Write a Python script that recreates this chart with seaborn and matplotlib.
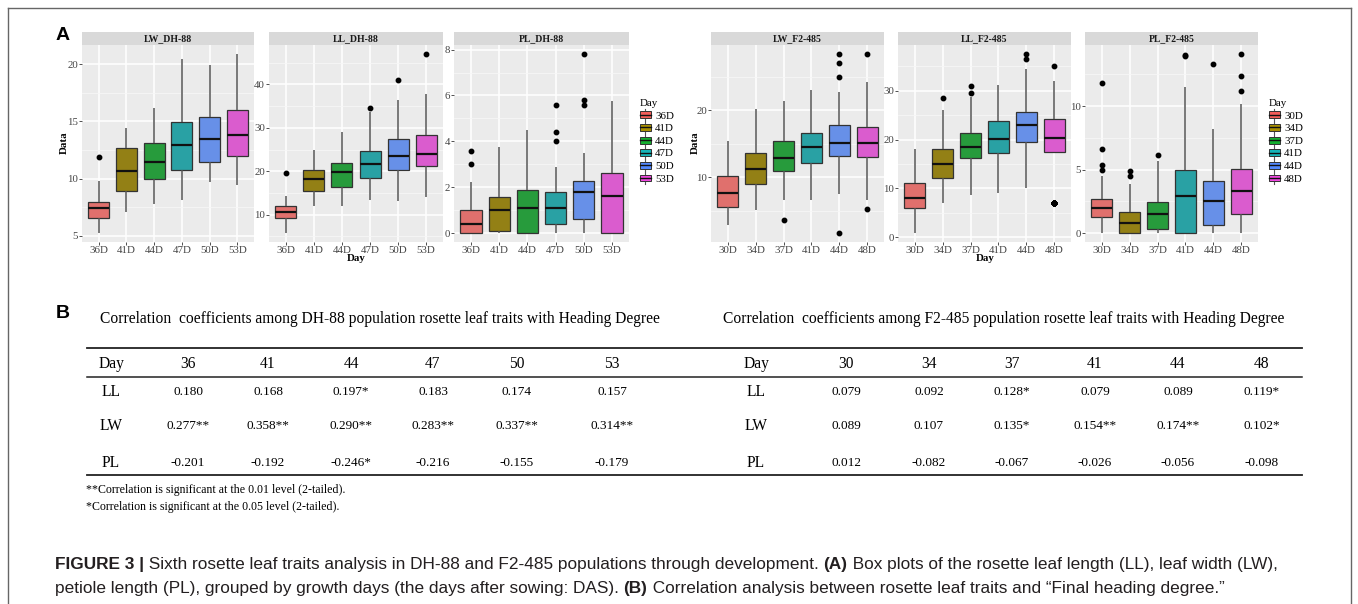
import numpy as np
import pandas as pd
import matplotlib
matplotlib.use("Agg")
import matplotlib.pyplot as plt
import seaborn as sns
from matplotlib.ticker import MultipleLocator
from matplotlib.patches import Patch, Rectangle
from matplotlib.lines import Line2D

# ---- box plot summaries: [lower whisker, Q1, median, Q3, upper whisker]
dh_days = ["36D", "41D", "44D", "47D", "50D", "53D"]
f2_days = ["30D", "34D", "37D", "41D", "44D", "48D"]

lw_dh_box = [[5.23, 6.52, 7.4, 7.99, 9.75], [7.05, 8.9, 10.68, 12.65, 14.43],
             [7.8, 9.98, 11.47, 13.15, 16.16], [8.13, 10.77, 12.97, 14.96, 20.47],
             [9.69, 11.47, 13.47, 15.34, 19.94], [9.4, 12.0, 13.79, 15.96, 20.9]]
lw_dh_out = [[11.9], [], [], [], [], []]

ll_dh_box = [[5.78, 9.16, 10.69, 12.0, 14.37], [11.9, 15.37, 18.13, 20.2, 24.97],
             [11.9, 16.37, 19.9, 21.9, 28.96], [13.5, 18.44, 21.74, 24.58, 33.56],
             [13.07, 20.36, 23.5, 27.42, 36.48], [14.14, 21.2, 24.04, 28.27, 37.86]]
ll_dh_out = [[19.5], [], [], [34.48], [41.0], [47.0]]

pl_dh_box = [[0, 0, 0.38, 1.0, 2.21], [0, 0.09, 1.0, 1.57, 3.75],
             [0, 0, 1.09, 1.88, 4.49], [0, 0.38, 1.09, 1.79, 2.88],
             [0, 0.6, 1.79, 2.27, 3.48], [0, 0, 1.6, 2.6, 5.77]]
pl_dh_out = [[3.0, 3.59], [], [], [4.0, 4.39, 5.6], [5.6, 5.79, 7.81], []]

lw_f2_box = [[2.94, 5.57, 7.66, 10.15, 15.42], [5.17, 9.0, 11.24, 13.58, 20.25],
             [6.67, 11.0, 12.94, 15.37, 21.44], [6.67, 12.14, 14.48, 16.57, 23.08],
             [7.46, 13.13, 15.17, 17.76, 22.79], [6.67, 13.03, 15.17, 17.56, 24.28]]
lw_f2_out = [[], [], [3.68], [], [1.69, 24.93, 27.0, 28.4], [5.22, 28.36]]

ll_f2_box = [[0.89, 5.93, 8.11, 11.18, 18.13], [7.02, 12.07, 14.93, 18.13, 25.97],
             [8.66, 16.22, 18.54, 21.4, 28.63], [9.13, 17.18, 20.11, 23.79, 31.22],
             [10.16, 19.43, 22.9, 25.7, 34.49], [7.09, 17.38, 20.38, 24.2, 31.97]]
ll_f2_out = [[], [28.43], [29.45, 31.0], [], [36.47, 37.49], [35.04]]

pl_f2_box = [[0, 1.29, 1.97, 2.68, 4.47], [0, 0, 0.79, 1.68, 3.89],
             [0, 0.29, 1.47, 2.47, 5.7], [0, 0, 2.92, 5.0, 11.47],
             [0, 0.66, 2.5, 4.1, 8.18], [0, 1.47, 3.29, 5.08, 10.18]]
pl_f2_out = [[4.97, 5.37, 6.58, 11.8], [4.5, 4.89], [6.18], [13.95, 14.0], [13.3], [11.2, 12.4, 14.1]]

# ---- correlation tables
dh_cols = ["36", "41", "44", "47", "50", "53"]
dh_LL = ["0.180", "0.168", "0.197*", "0.183", "0.174", "0.157"]
dh_LW = ["0.277**", "0.358**", "0.290**", "0.283**", "0.337**", "0.314**"]
dh_PL = ["-0.201", "-0.192", "-0.246*", "-0.216", "-0.155", "-0.179"]
f2_cols = ["30", "34", "37", "41", "44", "48"]
f2_LL = ["0.079", "0.092", "0.128*", "0.079", "0.089", "0.119*"]
f2_LW = ["0.089", "0.107", "0.135*", "0.154**", "0.174**", "0.102*"]
f2_PL = ["0.012", "-0.082", "-0.067", "-0.026", "-0.056", "-0.098"]

palette = ["#F35E5A", "#A88F00", "#14AE2F", "#14B4B8", "#5288FD", "#EF47DF"]

W, H = 1358, 604
SERIF = ["Liberation Serif", "DejaVu Serif"]
SANS = ["Liberation Sans", "DejaVu Sans"]
plt.rcParams["font.family"] = SERIF

fig = plt.figure(figsize=(W / 100, H / 100), dpi=100)


def fx(x):
    return x / W


def fy(y):
    return 1 - y / H


def add_ax(x0, y0, x1, y1):
    return fig.add_axes([fx(x0), fy(y1), (x1 - x0) / W, (y1 - y0) / H])


def expand(days, box, outs):
    # repeat each summary value so the quartiles come out exactly as read
    rows = []
    for d, s, o in zip(days, box, outs):
        for v in s:
            rows += [(d, v)] * 20
        rows += [(d, v) for v in o]
    return pd.DataFrame(rows, columns=["Day", "Data"])


def panel(x0, x1, title, days, box, outs, step):
    ax = add_ax(x0, 45, x1, 242)
    df = expand(days, box, outs)
    sns.boxplot(data=df, x="Day", y="Data", hue="Day", palette=palette, width=0.75,
                linecolor="#333333", linewidth=0.9, showcaps=False, whis=1.5,
                fliersize=3.2, legend=False, ax=ax,
                flierprops=dict(marker="o", markerfacecolor="black", markeredgecolor="black"),
                medianprops=dict(color="#111111", linewidth=1.6),
                whiskerprops=dict(color="#555555", linewidth=1.1))
    lo, hi = df["Data"].min(), df["Data"].max()
    pad = 0.05 * (hi - lo)
    ax.set_ylim(lo - pad, hi + pad)
    ax.set_xlim(-0.6, 5.6)
    ax.set_facecolor("#EBEBEB")
    ax.yaxis.set_major_locator(MultipleLocator(step))
    ax.yaxis.set_minor_locator(MultipleLocator(step / 2))
    ax.set_axisbelow(True)
    ax.grid(True, which="major", color="white", linewidth=1.1)
    ax.grid(True, which="minor", axis="y", color="#F7F7F7", linewidth=0.55)
    for s in ax.spines.values():
        s.set_visible(False)
    ax.tick_params(which="major", length=2, width=0.6, color="#333333",
                   labelsize=7.8, labelcolor="#444444", pad=0.8)
    ax.tick_params(which="minor", length=0)
    ax.set_xlabel("")
    ax.set_ylabel("")
    st = add_ax(x0, 32, x1, 45)
    st.set_facecolor("#D9D9D9")
    st.set_xticks([])
    st.set_yticks([])
    for s in st.spines.values():
        s.set_visible(False)
    st.text(0.5, 0.5, title, ha="center", va="center", fontsize=7,
            fontweight="bold", color="#1A1A1A", transform=st.transAxes)
    return ax


panel(82, 254, "LW_DH-88", dh_days, lw_dh_box, lw_dh_out, 5)
panel(269, 443, "LL_DH-88", dh_days, ll_dh_box, ll_dh_out, 10)
panel(454, 629, "PL_DH-88", dh_days, pl_dh_box, pl_dh_out, 2)
panel(711, 884, "LW_F2-485", f2_days, lw_f2_box, lw_f2_out, 10)
panel(898, 1071, "LL_F2-485", f2_days, ll_f2_box, ll_f2_out, 10)
panel(1085, 1258, "PL_F2-485", f2_days, pl_f2_box, pl_f2_out, 5)

# axis titles
for x in (64, 695):
    fig.text(fx(x), fy(143), "Data", rotation=90, ha="center", va="center",
             fontsize=7.8, fontweight="bold")
for x in (356, 985):
    fig.text(fx(x), fy(258), "Day", ha="center", va="center", fontsize=7.8, fontweight="bold")


class BoxKey:
    # small boxplot glyph like the ggplot legend key
    def legend_artist(self, legend, orig_handle, fontsize, handlebox):
        x0, y0 = -handlebox.xdescent, -handlebox.ydescent
        w, h = handlebox.width, handlebox.height
        tr = handlebox.get_transform()
        handlebox.add_artist(Line2D([x0 + w / 2] * 2, [y0 - 1, y0 + h + 1], color="#555555",
                                    linewidth=0.8, transform=tr))
        handlebox.add_artist(Rectangle((x0, y0 + 0.12 * h), w, 0.76 * h,
                                       facecolor=orig_handle.get_facecolor(), edgecolor="#333333",
                                       linewidth=0.7, transform=tr))
        handlebox.add_artist(Line2D([x0, x0 + w], [y0 + h / 2] * 2, color="#111111",
                                    linewidth=1.0, transform=tr))
        return handlebox


def key_legend(x, y, days):
    handles = [Patch(facecolor=c) for c in palette]
    leg = fig.legend(handles, days, title="Day", loc="upper left",
                     bbox_to_anchor=(fx(x), fy(y)), frameon=False,
                     handler_map={Patch: BoxKey()},
                     prop={"size": 7.8}, title_fontsize=7.8, handlelength=1.0,
                     handleheight=0.9, labelspacing=0.22, handletextpad=0.4,
                     borderpad=0, borderaxespad=0)
    leg._legend_box.align = "left"


key_legend(640, 99, dh_days)
key_legend(1269, 99, f2_days)

# panel letters
fig.text(fx(56), fy(35), "A", fontsize=14, fontweight="bold", family=SANS, va="center")
fig.text(fx(56), fy(313), "B", fontsize=14, fontweight="bold", family=SANS, va="center")

# ---- tables
fig.text(fx(100), fy(319), "Correlation  coefficients among DH-88 population rosette leaf traits with Heading Degree",
         fontsize=11.2, va="center", ha="left")
fig.text(fx(723), fy(319), "Correlation  coefficients among F2-485 population rosette leaf traits with Heading Degree",
         fontsize=11.2, va="center", ha="left")

for yy, lw in ((348, 1.3), (377, 1.1), (475, 1.3)):
    fig.add_artist(Line2D([fx(87), fx(1302)], [fy(yy), fy(yy)], color="#222222", linewidth=lw))


def table(lab_x, col_x, cols, ll, lw, pl):
    rows = [("Day", cols, 364, 11.2), ("LL", ll, 392, 9.5), ("LW", lw, 426, 9.5), ("PL", pl, 463, 9.5)]
    for lab, vals, yy, size in rows:
        fig.text(fx(lab_x), fy(yy), lab, ha="center", va="center", fontsize=11.2)
        for x, v in zip(col_x, vals):
            fig.text(fx(x), fy(yy), v, ha="center", va="center", fontsize=size)


table(111, [188, 268, 351, 433, 517, 612], dh_cols, dh_LL, dh_LW, dh_PL)
table(756, [846, 929, 1012, 1095, 1178, 1262], f2_cols, f2_LL, f2_LW, f2_PL)

fig.text(fx(86), fy(490), "**Correlation is significant at the 0.01 level (2-tailed).", fontsize=8.6, va="center")
fig.text(fx(86), fy(507), "*Correlation is significant at the 0.05 level (2-tailed).", fontsize=8.6, va="center")

# ---- caption with bold runs
CAP = ["Liberation Sans", "DejaVu Sans"]
renderer = fig.canvas.get_renderer()


def runs(x, y, parts, size):
    for txt, bold in parts:
        t = fig.text(fx(x), fy(y), txt, fontsize=size, family=CAP, color="#231F20",
                     fontweight="bold" if bold else "normal", va="center", ha="left")
        x += t.get_window_extent(renderer=renderer).width


cap_size = 12.4
runs(55, 565, [("FIGURE 3 |", True),
               (" Sixth rosette leaf traits analysis in DH-88 and F2-485 populations through development. ", False),
               ("(A)", True),
               (" Box plots of the rosette leaf length (LL), leaf width (LW),", False)], cap_size)
runs(55, 588, [("petiole length (PL), grouped by growth days (the days after sowing: DAS). ", False),
               ("(B)", True),
               (" Correlation analysis between rosette leaf traits and \u201cFinal heading degree.\u201d", False)], cap_size)

# frame around the figure
for xs, ys in (([8, 8], [604, 8]), ([8, 1351], [8, 8]), ([1351, 1351], [8, 604])):
    fig.add_artist(Line2D([fx(v) for v in xs], [fy(v) for v in ys], color="#666666", linewidth=1.0))

fig.savefig("out.png", dpi=100)
